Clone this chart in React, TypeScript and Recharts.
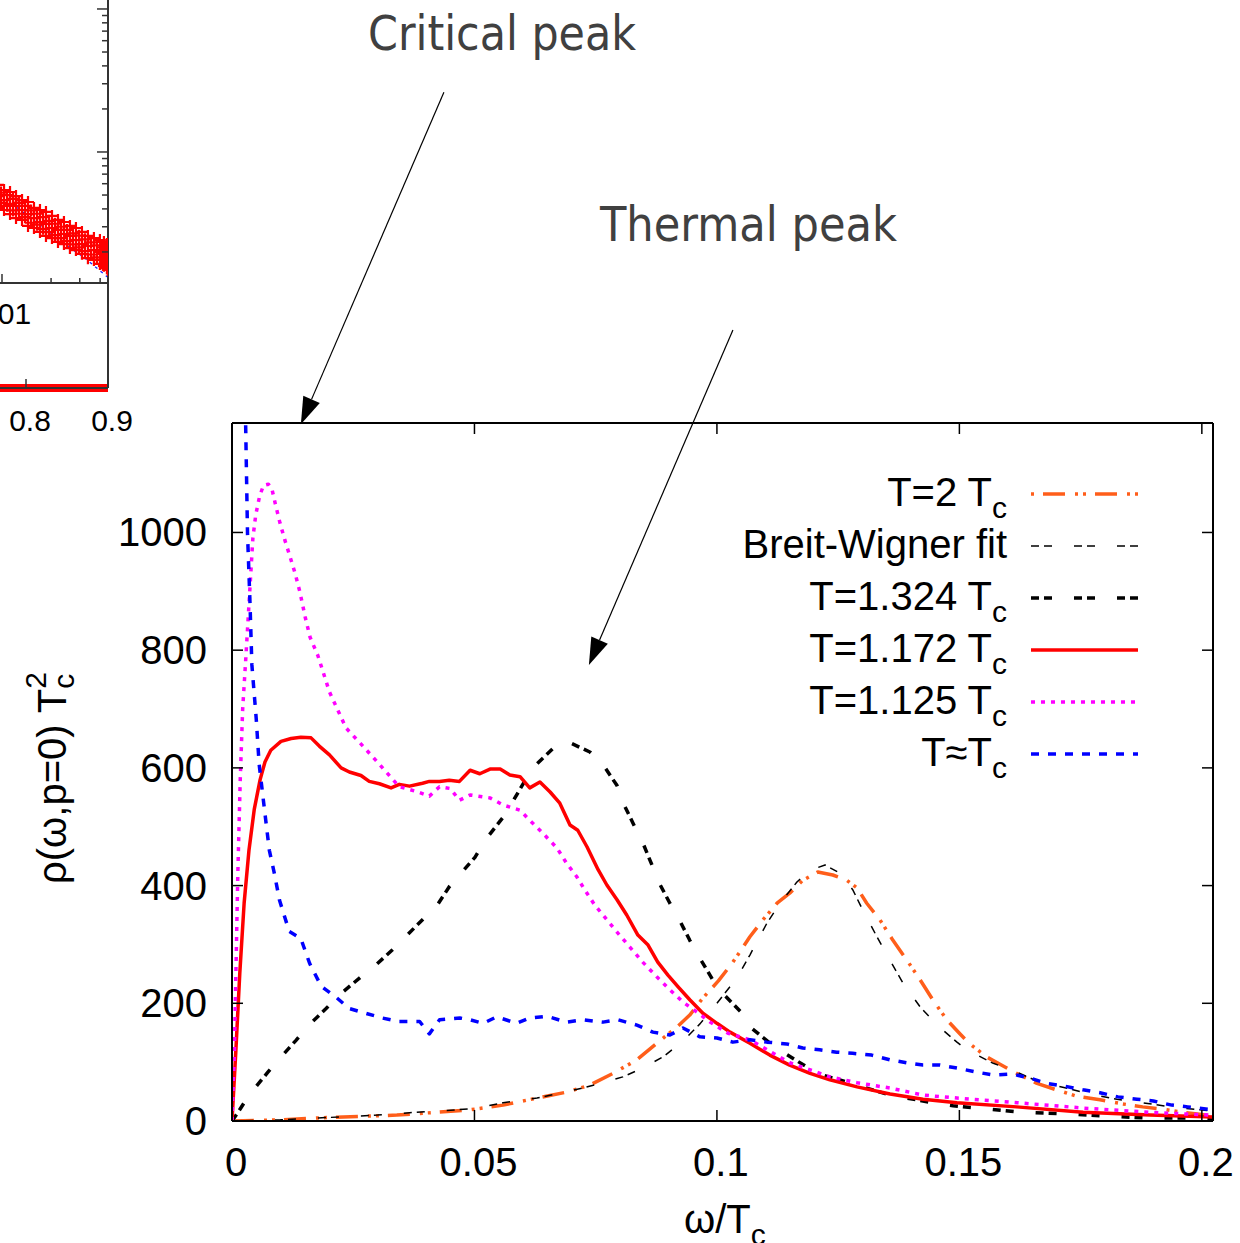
import React from 'react';
import {
  LineChart,
  ComposedChart,
  Line,
  Scatter,
  XAxis,
  YAxis,
  Legend,
  ReferenceLine,
  Label,
} from 'recharts';

const FONT = "'Liberation Sans', Arial, Helvetica, sans-serif";
const ANNOT_FONT = "'DejaVu Sans Condensed', 'DejaVu Sans', sans-serif";

// ---------- main chart axes ----------
const xTicks = [0, 0.05, 0.1, 0.15, 0.2];
const yTicks = [0, 200, 400, 600, 800, 1000];
const xDomain: [number, number] = [0, 0.2023];
const yDomain: [number, number] = [0, 1186];

// ---------- main chart series: [omega/Tc, rho*Tc^2] ----------
const seriesT2: [number, number][] = [
  [0, 0], [0.01, 2], [0.02, 6], [0.034, 10], [0.0491, 19], [0.0559, 27], [0.0629, 39], [0.069, 49],
  [0.0738, 61], [0.0786, 81], [0.0835, 104], [0.0876, 132], [0.0918, 160], [0.0944, 180], [0.0971, 209],
  [0.1003, 238], [0.1033, 270], [0.1068, 313], [0.1095, 342], [0.1124, 370], [0.115, 387], [0.1177, 409],
  [0.1208, 423], [0.1239, 418], [0.1268, 409], [0.1289, 396], [0.1309, 370], [0.1336, 342], [0.1363, 307],
  [0.1392, 273], [0.1419, 240], [0.1445, 206], [0.1474, 172], [0.15, 149], [0.152, 132], [0.1556, 109],
  [0.158, 98], [0.1618, 81], [0.166, 64], [0.17, 53], [0.1742, 42], [0.179, 36], [0.1837, 29], [0.1878, 24],
  [0.192, 20], [0.196, 15], [0.2023, 9],
];

const seriesBW: [number, number][] = [
  [0, 0], [0.01, 2], [0.02, 6], [0.03, 10], [0.0366, 14], [0.05, 21], [0.0559, 31], [0.0629, 39],
  [0.0724, 56], [0.0806, 75], [0.0847, 90], [0.0889, 109], [0.093, 136], [0.0965, 165], [0.1, 200],
  [0.1041, 243], [0.1068, 282], [0.1103, 336], [0.113, 370], [0.1165, 406], [0.1192, 426], [0.1223, 435],
  [0.1254, 421], [0.128, 393], [0.1301, 358], [0.133, 313], [0.1357, 273], [0.1384, 234], [0.1419, 194],
  [0.1454, 163], [0.1495, 134], [0.1515, 121], [0.157, 98], [0.1618, 83], [0.1666, 66], [0.172, 56],
  [0.1769, 46], [0.1825, 37], [0.1878, 31], [0.1934, 24], [0.1996, 19], [0.2023, 17],
];

const seriesT1324: [number, number][] = [
  [0, 0], [0.0015, 18], [0.0036, 45], [0.0074, 83], [0.0098, 106], [0.0132, 137], [0.016, 164],
  [0.0194, 191], [0.0221, 214], [0.0266, 245], [0.029, 260], [0.0331, 291], [0.0359, 314], [0.04, 348],
  [0.0421, 364], [0.0448, 398], [0.0469, 418], [0.0501, 448], [0.0522, 477], [0.0559, 516], [0.0577, 540],
  [0.0619, 599], [0.0662, 633], [0.0691, 645], [0.0738, 627], [0.0763, 608], [0.0794, 570], [0.0804, 545],
  [0.0831, 499], [0.0845, 477], [0.0866, 435], [0.0878, 409], [0.0903, 370], [0.092, 346], [0.0944, 307],
  [0.0961, 282], [0.0992, 239], [0.1012, 217], [0.1052, 183], [0.1068, 160], [0.111, 132], [0.114, 115],
  [0.1185, 92], [0.1219, 78], [0.1268, 66], [0.1357, 44], [0.1391, 39], [0.1445, 31], [0.1487, 26],
  [0.1563, 20], [0.1625, 15], [0.1722, 12], [0.181, 8], [0.1893, 5], [0.199, 5], [0.2023, 4],
];

const seriesT1172: [number, number][] = [
  [0, 0], [0.0008, 120], [0.0016, 250], [0.0025, 370], [0.0035, 460], [0.0046, 530], [0.0058, 580],
  [0.0068, 610], [0.008, 630], [0.0101, 645], [0.0122, 650], [0.0142, 652], [0.0163, 651], [0.018, 637],
  [0.0201, 622], [0.0225, 600], [0.0242, 593], [0.0266, 587], [0.0283, 577], [0.0304, 573], [0.0328, 566],
  [0.0345, 572], [0.0366, 569], [0.0393, 574], [0.0407, 577], [0.0428, 577], [0.0448, 579], [0.0469, 577],
  [0.0491, 596], [0.0511, 590], [0.0532, 598], [0.0553, 598], [0.0573, 588], [0.0594, 585], [0.0614, 566],
  [0.0635, 576], [0.0656, 559], [0.0676, 540], [0.0697, 503], [0.0713, 494], [0.0732, 466], [0.0755, 427],
  [0.0773, 401], [0.0794, 376], [0.0814, 350], [0.0837, 316], [0.0858, 299], [0.0878, 270], [0.0899, 248],
  [0.092, 228], [0.0944, 206], [0.0971, 183], [0.1, 166], [0.1027, 151], [0.1068, 132], [0.1109, 112],
  [0.115, 95], [0.1192, 81], [0.1233, 70], [0.1289, 58], [0.1357, 46], [0.1425, 37], [0.1495, 31],
  [0.1618, 24], [0.1755, 15], [0.1893, 10], [0.2023, 7],
];

const seriesT1125: [number, number][] = [
  [0, 0], [0.0005, 120], [0.0008, 250], [0.0012, 420], [0.0017, 580], [0.0022, 700], [0.0028, 780],
  [0.0033, 850], [0.0038, 920], [0.0043, 990], [0.0049, 1030], [0.0057, 1062], [0.0065, 1080],
  [0.0075, 1082], [0.0082, 1075], [0.0089, 1050], [0.0099, 1016], [0.0109, 987], [0.012, 958], [0.013, 931],
  [0.014, 899], [0.0151, 856], [0.0161, 822], [0.0177, 791], [0.0201, 729], [0.0235, 668], [0.027, 637],
  [0.0304, 606], [0.0345, 568], [0.038, 560], [0.0407, 552], [0.0428, 568], [0.045, 565], [0.0469, 545],
  [0.0491, 554], [0.0532, 549], [0.0559, 537], [0.0594, 528], [0.0614, 511], [0.0641, 489], [0.067, 464],
  [0.069, 438], [0.0711, 415], [0.0728, 392], [0.0748, 367], [0.0773, 342], [0.0796, 319], [0.082, 296],
  [0.0847, 270], [0.0876, 245], [0.0903, 223], [0.093, 202], [0.0959, 185], [0.0986, 168], [0.1023, 149],
  [0.1068, 138], [0.115, 99], [0.1233, 75], [0.1289, 65], [0.1357, 56], [0.1425, 44], [0.1495, 39],
  [0.162, 31], [0.1755, 22], [0.189, 15], [0.2016, 10],
];

const seriesTc: [number, number][] = [
  [0.0024, 1500], [0.0028, 1190], [0.0032, 998], [0.0037, 883], [0.0041, 775], [0.005, 683], [0.0056, 606],
  [0.0067, 529], [0.0077, 460], [0.0087, 422], [0.0098, 375], [0.0118, 322], [0.0142, 310], [0.016, 268],
  [0.0184, 229], [0.0215, 210], [0.0242, 191], [0.0276, 183], [0.031, 175], [0.0345, 169], [0.0387, 169],
  [0.0407, 148], [0.0428, 172], [0.047, 175], [0.0491, 172], [0.0518, 166], [0.0546, 177], [0.0587, 166],
  [0.0614, 175], [0.0649, 178], [0.069, 168], [0.0724, 172], [0.0765, 168], [0.0796, 172], [0.0835, 163],
  [0.0868, 151], [0.0903, 146], [0.093, 158], [0.0965, 143], [0.1, 141], [0.1033, 134], [0.1068, 138],
  [0.1103, 134], [0.1144, 131], [0.1177, 124], [0.1212, 121], [0.1247, 117], [0.128, 115], [0.1319, 112],
  [0.1357, 104], [0.1391, 99], [0.1425, 95], [0.146, 95], [0.1495, 90], [0.1536, 83], [0.157, 78],
  [0.1608, 80], [0.1645, 73], [0.168, 64], [0.1718, 59], [0.1755, 53], [0.179, 48], [0.1827, 41],
  [0.1866, 37], [0.19, 34], [0.1938, 27], [0.1971, 24], [0.2023, 19],
];

// arrow annotations (tail -> tip) in data coordinates
const criticalArrow = [{ x: 0.0437, y: 1748 }, { x: 0.0142, y: 1184 }];
const thermalArrow = [{ x: 0.1033, y: 1344 }, { x: 0.0736, y: 775 }];

// ---------- inset (partially visible, upper-left) ----------
const insetLogXTicks = [0.001, 0.002, 0.003, 0.004, 0.005, 0.006, 0.007, 0.008, 0.009, 0.01, 0.02, 0.03, 0.04];
const insetLogYTicks = [0.2, 0.3, 0.4, 0.5, 0.6, 0.7, 0.8, 0.9, 1, 2, 3, 4, 5, 6, 7, 8, 9, 10, 20];
const insetLinXTicks = [0.5, 0.6, 0.7, 0.8, 0.9];

const insetCrosses: [number, number][] = [
  [0.00945, 0.588], [0.00945, 0.492], [0.00945, 0.406],
  [0.00986, 0.52], [0.00986, 0.44],
  [0.01029, 0.542], [0.01029, 0.461], [0.01029, 0.393],
  [0.01074, 0.5], [0.01074, 0.42],
  [0.0112, 0.525], [0.0112, 0.433], [0.0112, 0.368],
  [0.01169, 0.47], [0.01169, 0.39],
  [0.01219, 0.492], [0.01219, 0.419], [0.01219, 0.345],
  [0.01272, 0.44], [0.01272, 0.37],
  [0.01327, 0.461], [0.01327, 0.393], [0.01327, 0.335],
  [0.01385, 0.42], [0.01385, 0.35],
  [0.01444, 0.447], [0.01444, 0.368], [0.01444, 0.304],
  [0.01507, 0.39], [0.01507, 0.32],
  [0.01571, 0.406], [0.01571, 0.345], [0.01571, 0.294],
  [0.0164, 0.37], [0.0164, 0.31],
  [0.0171, 0.393], [0.0171, 0.324], [0.0171, 0.276],
  [0.01785, 0.35], [0.01785, 0.29],
  [0.01861, 0.381], [0.01861, 0.314], [0.01861, 0.259],
  [0.01943, 0.33], [0.01943, 0.275],
  [0.02026, 0.357], [0.02026, 0.294], [0.02026, 0.25],
  [0.02114, 0.315], [0.02114, 0.262],
  [0.02205, 0.335], [0.02205, 0.285], [0.02205, 0.235],
  [0.023, 0.3], [0.023, 0.25],
  [0.02399, 0.324], [0.02399, 0.267], [0.02399, 0.227],
  [0.02503, 0.285], [0.02503, 0.238],
  [0.02611, 0.304], [0.02611, 0.259], [0.02611, 0.213],
  [0.02724, 0.27], [0.02724, 0.226],
  [0.02842, 0.294], [0.02842, 0.242], [0.02842, 0.206],
  [0.02965, 0.26], [0.02965, 0.215],
  [0.03093, 0.276], [0.03093, 0.227], [0.03093, 0.194],
  [0.03227, 0.245], [0.03227, 0.203],
  [0.03366, 0.259], [0.03366, 0.22], [0.03366, 0.181],
  [0.03512, 0.233], [0.03512, 0.192],
  [0.03664, 0.25], [0.03664, 0.206], [0.03664, 0.176],
  [0.03822, 0.222], [0.03822, 0.183],
  [0.03987, 0.242], [0.03987, 0.2], [0.03987, 0.165],
  [0.04102, 0.215], [0.04102, 0.176],
  [0.0422, 0.235], [0.0422, 0.194], [0.0422, 0.16],
  [0.0434, 0.205], [0.0434, 0.17],
  [0.044, 0.227], [0.044, 0.187], [0.044, 0.154],
  [0.0446, 0.215], [0.0446, 0.175], [0.0446, 0.15],
];

const insetFit: [number, number][] = [
  [0.005, 0.98], [0.00972, 0.516], [0.0129, 0.393], [0.0178, 0.299], [0.0237, 0.231], [0.0323, 0.181],
  [0.0435, 0.136], [0.0447, 0.133],
];

const insetBase: [number, number][] = [[0.5, 0], [0.6, 0], [0.7, 0], [0.8, 0], [0.9, 0]];

const toPts = (arr: [number, number][]) => arr.map(([x, y]) => ({ x, y }));

type SeriesCfg = {
  key: string;
  name: string;
  sub: string;
  data: [number, number][];
  color: string;
  width: number;
  dash?: string;
  legendOffset?: number;
};

const SERIES: SeriesCfg[] = [
  { key: 't2', name: 'T=2 T', sub: 'c', data: seriesT2, color: '#ff5e1a', width: 3.5, dash: '22 10 3 5 3 9', legendOffset: 40 },
  { key: 'bw', name: 'Breit-Wigner fit', sub: '', data: seriesBW, color: '#000000', width: 1.5, dash: '8 5 8 22' },
  { key: 't1324', name: 'T=1.324 T', sub: 'c', data: seriesT1324, color: '#000000', width: 3.5, dash: '8 5 8 22' },
  { key: 't1172', name: 'T=1.172 T', sub: 'c', data: seriesT1172, color: '#ff0000', width: 3.5 },
  { key: 't1125', name: 'T=1.125 T', sub: 'c', data: seriesT1125, color: '#ff00ff', width: 3.5, dash: '4 6' },
  { key: 'tc', name: 'T\u2248T', sub: 'c', data: seriesTc, color: '#0000ff', width: 3.5, dash: '8 9' },
];

const FRAME = { stroke: '#000', strokeWidth: 2 };

// ---------- tick renderers (inward ticks, like gnuplot) ----------
function BottomTick(props: any) {
  const { x, y, payload } = props;
  return (
    <g>
      <line x1={x} y1={y} x2={x} y2={y - 11} stroke="#000" strokeWidth={1.5} />
      <text x={x + 4} y={y + 55} textAnchor="middle" fontFamily={FONT} fontSize={40} fill="#000">
        {String(payload.value)}
      </text>
    </g>
  );
}
function TopTick(props: any) {
  const { x, y } = props;
  return <line x1={x} y1={y} x2={x} y2={y + 11} stroke="#000" strokeWidth={1.5} />;
}
function LeftTick(props: any) {
  const { x, y, payload } = props;
  return (
    <g>
      <line x1={x} y1={y} x2={x + 11} y2={y} stroke="#000" strokeWidth={1.5} />
      <text x={x - 25} y={y + 14} textAnchor="end" fontFamily={FONT} fontSize={40} fill="#000">
        {String(payload.value)}
      </text>
    </g>
  );
}
function RightTick(props: any) {
  const { x, y } = props;
  return <line x1={x} y1={y} x2={x - 11} y2={y} stroke="#000" strokeWidth={1.5} />;
}

function InsetLogXTick(props: any) {
  const { x, y, payload } = props;
  const v = payload.value;
  const major = Math.abs(v - 0.01) < 1e-9 || Math.abs(v - 0.001) < 1e-9;
  return (
    <g>
      <line x1={x} y1={y} x2={x} y2={y - (major ? 9 : 5)} stroke="#333" strokeWidth={1.5} />
      {major ? (
        <text x={x} y={y + 41} textAnchor="middle" fontFamily={FONT} fontSize={30} fill="#000">
          {String(v)}
        </text>
      ) : null}
    </g>
  );
}
function InsetLogYTick(props: any) {
  const { x, y, payload } = props;
  const v = payload.value;
  const major = v === 1 || v === 10;
  return <line x1={x} y1={y} x2={x - (major ? 11 : 6)} y2={y} stroke="#333" strokeWidth={1.5} />;
}
function InsetLinXTick(props: any) {
  const { x, y, payload } = props;
  return (
    <g>
      <line x1={x} y1={y} x2={x} y2={y - 9} stroke="#333" strokeWidth={1.5} />
      <text x={x + 4} y={y + 43} textAnchor="middle" fontFamily={FONT} fontSize={30} fill="#000">
        {String(payload.value)}
      </text>
    </g>
  );
}

function CrossShape(props: any) {
  const { cx, cy } = props;
  if (cx == null || cy == null) return null;
  return <path d={`M${cx - 6},${cy}h12M${cx},${cy - 6}v12`} stroke="#ff0000" strokeWidth={2.2} fill="none" />;
}

function ArrowShape(props: any) {
  const { x1, y1, x2, y2 } = props;
  const dx = x2 - x1;
  const dy = y2 - y1;
  const len = Math.hypot(dx, dy) || 1;
  const ux = dx / len;
  const uy = dy / len;
  const hl = 27;
  const hw = 9;
  const bx = x2 - ux * hl;
  const by = y2 - uy * hl;
  const pts = `${x2},${y2} ${bx - uy * hw},${by + ux * hw} ${bx + uy * hw},${by - ux * hw}`;
  return (
    <g>
      <line x1={x1} y1={y1} x2={bx} y2={by} stroke="#000" strokeWidth={1.2} />
      <polygon points={pts} fill="#000" />
    </g>
  );
}

const LEG_LEFT = 680;
const LEG_TOP = 460;
function LegendBox() {
  return (
    <svg width={480} height={330} style={{ overflow: 'visible', display: 'block' }}>
      {SERIES.map((s, i) => {
        const cy = 34 + i * 52;
        return (
          <g key={s.key}>
            <text x={1007 - LEG_LEFT} y={cy + 12} textAnchor="end" fontFamily={FONT} fontSize={40} fill="#000">
              {s.name}
              {s.sub ? (
                <tspan dy={12} fontSize={30}>
                  {s.sub}
                </tspan>
              ) : null}
            </text>
            <line
              x1={1031 - LEG_LEFT}
              y1={cy}
              x2={1138 - LEG_LEFT}
              y2={cy}
              stroke={s.color}
              strokeWidth={s.width}
              strokeDasharray={s.dash}
              strokeDashoffset={s.legendOffset || 0}
            />
          </g>
        );
      })}
    </svg>
  );
}

function YTitle() {
  return (
    <text transform="rotate(-90 66 884)" x={66} y={884} textAnchor="start" fontFamily={FONT} fontSize={40} fill="#000">
      {'\u03c1(\u03c9,p=0) T'}
      <tspan dy={8} fontSize={30}>c</tspan>
      <tspan dx={-15} dy={-28} fontSize={30}>2</tspan>
    </text>
  );
}
function XTitle() {
  return (
    <text x={684} y={1233} textAnchor="start" fontFamily={FONT} fontSize={40} fill="#000">
      {'\u03c9/T'}
      <tspan dy={12} fontSize={30}>c</tspan>
    </text>
  );
}

function InsetUpper() {
  return (
    <div style={{ position: 'absolute', left: -161, top: -40 }}>
      <ComposedChart width={299} height={373} margin={{ top: 0, right: 29, bottom: 0, left: 0 }}>
        <XAxis
          type="number"
          dataKey="x"
          scale="log"
          domain={[0.001, 0.0447]}
          allowDataOverflow
          ticks={insetLogXTicks}
          interval={0}
          height={50}
          tick={InsetLogXTick}
          tickLine={false}
          tickSize={0}
          tickMargin={0}
          axisLine={{ stroke: '#333', strokeWidth: 2 }}
        />
        <YAxis
          type="number"
          dataKey="y"
          orientation="right"
          scale="log"
          domain={[0.1213, 22]}
          allowDataOverflow
          ticks={insetLogYTicks}
          interval={0}
          width={1}
          tick={InsetLogYTick}
          tickLine={false}
          tickSize={0}
          tickMargin={0}
          axisLine={{ stroke: '#333', strokeWidth: 2 }}
        />
        <Scatter data={toPts(insetCrosses)} dataKey="y" shape={CrossShape} fill="#ff0000" isAnimationActive={false} />
        <Line
          data={toPts(insetFit)}
          dataKey="y"
          type="linear"
          stroke="#2020ff"
          strokeWidth={1.3}
          strokeDasharray="3 4"
          dot={false}
          isAnimationActive={false}
        />
      </ComposedChart>
    </div>
  );
}

function InsetLower() {
  return (
    <div style={{ position: 'absolute', left: -220, top: 283 }}>
      <ComposedChart width={358} height={155} margin={{ top: 0, right: 29, bottom: 0, left: 0 }}>
        <XAxis
          type="number"
          dataKey="x"
          domain={[0.5, 0.9]}
          ticks={insetLinXTicks}
          interval={0}
          height={50}
          tick={InsetLinXTick}
          tickLine={false}
          tickSize={0}
          tickMargin={0}
          axisLine={{ stroke: '#333', strokeWidth: 2 }}
        />
        <YAxis
          type="number"
          orientation="right"
          domain={[0, 1]}
          width={1}
          tick={false}
          tickLine={false}
          axisLine={{ stroke: '#333', strokeWidth: 2 }}
        />
        <Line
          data={toPts(insetBase)}
          dataKey="y"
          type="linear"
          stroke="#ff0000"
          strokeWidth={8}
          dot={false}
          isAnimationActive={false}
        />
      </ComposedChart>
    </div>
  );
}

export default function App() {
  return (
    <div
      style={{
        position: 'absolute',
        left: 0,
        top: 0,
        width: 1240,
        height: 1243,
        overflow: 'hidden',
        background: '#ffffff',
      }}
    >
      <InsetUpper />
      <InsetLower />
      <div style={{ position: 'absolute', left: 0, top: 0 }}>
        <LineChart width={1240} height={1243} margin={{ top: 422, right: 26, bottom: 42, left: 132 }}>
          <XAxis
            xAxisId={0}
            type="number"
            dataKey="x"
            domain={xDomain}
            allowDataOverflow
            ticks={xTicks}
            interval={0}
            height={80}
            tick={BottomTick}
            tickLine={false}
            tickSize={0}
            tickMargin={0}
            axisLine={FRAME}
          >
            <Label content={XTitle} />
          </XAxis>
          <XAxis
            xAxisId="top"
            orientation="top"
            type="number"
            dataKey="x"
            domain={xDomain}
            allowDataOverflow
            ticks={xTicks}
            interval={0}
            height={1}
            tick={TopTick}
            tickLine={false}
            tickSize={0}
            tickMargin={0}
            axisLine={FRAME}
          />
          <YAxis
            yAxisId={0}
            type="number"
            domain={yDomain}
            allowDataOverflow
            ticks={yTicks}
            interval={0}
            width={100}
            tick={LeftTick}
            tickLine={false}
            tickSize={0}
            tickMargin={0}
            axisLine={FRAME}
          >
            <Label content={YTitle} />
          </YAxis>
          <YAxis
            yAxisId="right"
            orientation="right"
            type="number"
            domain={yDomain}
            allowDataOverflow
            ticks={yTicks}
            interval={0}
            width={1}
            tick={RightTick}
            tickLine={false}
            tickSize={0}
            tickMargin={0}
            axisLine={FRAME}
          />
          {SERIES.map((s) => (
            <Line
              key={s.key}
              name={s.name + s.sub}
              data={toPts(s.data)}
              dataKey="y"
              type="linear"
              stroke={s.color}
              strokeWidth={s.width}
              strokeDasharray={s.dash}
              strokeLinejoin="round"
              dot={false}
              activeDot={false}
              isAnimationActive={false}
            />
          ))}
          <ReferenceLine segment={criticalArrow} ifOverflow="visible" shape={ArrowShape} />
          <ReferenceLine segment={thermalArrow} ifOverflow="visible" shape={ArrowShape} />
          <Legend
            layout="vertical"
            align="center"
            verticalAlign="middle"
            width={480}
            height={330}
            wrapperStyle={{ left: LEG_LEFT, top: LEG_TOP, width: 480, height: 330 }}
            content={LegendBox}
          />
        </LineChart>
      </div>
      <svg
        width={1240}
        height={1243}
        style={{ position: 'absolute', left: 0, top: 0, pointerEvents: 'none' }}
      >
        <text
          x={368}
          y={50}
          fontFamily={ANNOT_FONT}
          fontSize={48}
          fill="#404040"
          textLength={268}
          lengthAdjust="spacingAndGlyphs"
        >
          Critical peak
        </text>
        <text
          x={600}
          y={241}
          fontFamily={ANNOT_FONT}
          fontSize={48}
          fill="#404040"
          textLength={297}
          lengthAdjust="spacingAndGlyphs"
        >
          Thermal peak
        </text>
      </svg>
    </div>
  );
}
